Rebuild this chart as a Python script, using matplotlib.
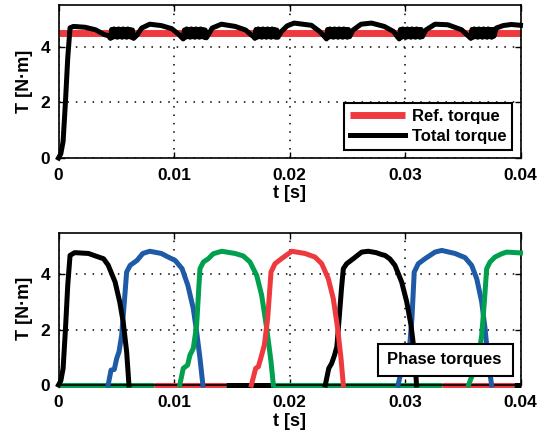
import numpy as np
import matplotlib
matplotlib.use('Agg')
import matplotlib.pyplot as plt
from matplotlib.patches import Rectangle

plt.rcParams['font.family'] = ['Liberation Sans', 'DejaVu Sans']
plt.rcParams['font.weight'] = 'bold'

# top plot : reference and total torque
ref_t = [0.0, 0.04]
ref_T = [4.5, 4.5]

# smooth parts of the total torque, between the chattering blocks
smooth_t = [
    [0.0, 0.0002, 0.0004, 0.0006, 0.0008, 0.001, 0.0013, 0.0023, 0.0032, 0.004, 0.0043],
    [0.0068, 0.0072, 0.0079, 0.0089, 0.0098, 0.0104, 0.0106],
    [0.013, 0.0133, 0.0141, 0.0153, 0.0162, 0.0167, 0.0169],
    [0.0193, 0.0198, 0.0204, 0.0219, 0.0226, 0.023],
    [0.0255, 0.0262, 0.0271, 0.0282, 0.029, 0.0293],
    [0.0318, 0.0326, 0.0337, 0.0349, 0.0355],
    [0.0379, 0.0385, 0.0392, 0.04],
]
smooth_T = [
    [0.0, 0.15, 0.6, 2.0, 3.6, 4.68, 4.73, 4.7, 4.61, 4.43, 4.4],
    [4.42, 4.67, 4.81, 4.76, 4.65, 4.45, 4.36],
    [4.45, 4.67, 4.81, 4.73, 4.6, 4.42, 4.36],
    [4.55, 4.75, 4.85, 4.77, 4.55, 4.38],
    [4.6, 4.81, 4.85, 4.73, 4.55, 4.38],
    [4.6, 4.81, 4.79, 4.61, 4.38],
    [4.67, 4.76, 4.8, 4.77],
]
# chattering blocks at each commutation
chat_t = [
    [0.0045, 0.0046, 0.0047, 0.0048, 0.0049, 0.005, 0.0051, 0.0052, 0.0053, 0.0054, 0.0055,
     0.0056, 0.0057, 0.0058, 0.0059, 0.006, 0.0061, 0.0062, 0.0063, 0.0064, 0.0065],
    [0.0108, 0.0109, 0.011, 0.0111, 0.0112, 0.0113, 0.0114, 0.0115, 0.0116, 0.0117, 0.0118,
     0.0119, 0.012, 0.0121, 0.0122, 0.0123, 0.0124, 0.0125, 0.0126, 0.0127, 0.0128],
    [0.017, 0.0171, 0.0172, 0.0173, 0.0174, 0.0175, 0.0176, 0.0177, 0.0178, 0.0179, 0.018,
     0.0181, 0.0182, 0.0183, 0.0184, 0.0185, 0.0186, 0.0187, 0.0188, 0.0189, 0.019],
    [0.0232, 0.0233, 0.0234, 0.0235, 0.0236, 0.0237, 0.0238, 0.0239, 0.024, 0.0241, 0.0242,
     0.0243, 0.0244, 0.0245, 0.0246, 0.0247, 0.0248, 0.0249, 0.025, 0.0251, 0.0252],
    [0.0295, 0.0296, 0.0297, 0.0298, 0.0299, 0.03, 0.0301, 0.0302, 0.0303, 0.0304, 0.0305,
     0.0306, 0.0307, 0.0308, 0.0309, 0.031, 0.0311, 0.0312, 0.0313, 0.0314, 0.0315],
    [0.0357, 0.0358, 0.0359, 0.036, 0.0361, 0.0362, 0.0363, 0.0364, 0.0365, 0.0366, 0.0367,
     0.0368, 0.0369, 0.037, 0.0371, 0.0372, 0.0373, 0.0374, 0.0375, 0.0376, 0.0377],
]
chat_T = [
    [4.3, 4.62, 4.34, 4.64, 4.36, 4.62, 4.34, 4.64, 4.36, 4.62, 4.34,
     4.64, 4.36, 4.62, 4.34, 4.64, 4.36, 4.62, 4.34, 4.6, 4.3],
    [4.28, 4.6, 4.34, 4.64, 4.36, 4.62, 4.34, 4.64, 4.36, 4.62, 4.34,
     4.64, 4.36, 4.62, 4.34, 4.64, 4.36, 4.62, 4.34, 4.6, 4.32],
    [4.3, 4.62, 4.34, 4.64, 4.36, 4.62, 4.34, 4.64, 4.36, 4.62, 4.34,
     4.64, 4.36, 4.62, 4.34, 4.64, 4.36, 4.62, 4.34, 4.6, 4.34],
    [4.28, 4.62, 4.34, 4.64, 4.36, 4.62, 4.34, 4.64, 4.36, 4.62, 4.34,
     4.64, 4.36, 4.62, 4.34, 4.64, 4.36, 4.62, 4.34, 4.62, 4.36],
    [4.28, 4.62, 4.34, 4.64, 4.36, 4.62, 4.34, 4.64, 4.36, 4.62, 4.34,
     4.64, 4.36, 4.62, 4.34, 4.64, 4.36, 4.62, 4.34, 4.62, 4.36],
    [4.3, 4.62, 4.34, 4.64, 4.36, 4.62, 4.34, 4.64, 4.36, 4.62, 4.34,
     4.64, 4.36, 4.62, 4.34, 4.64, 4.36, 4.62, 4.34, 4.62, 4.38],
]

# bottom plot : phase torque pulses (A black, B blue, C green, D red)
a_pulses = [
    ([0.0, 0.0002, 0.0004, 0.0006, 0.0008, 0.001, 0.0014, 0.0026, 0.0032, 0.0039, 0.0043,
      0.0049, 0.0053, 0.0056, 0.0059, 0.0061],
     [0.0, 0.15, 0.6, 2.0, 3.6, 4.68, 4.78, 4.75, 4.66, 4.56, 4.33,
      3.72, 3.0, 2.28, 1.2, 0.0]),
    ([0.0231, 0.0234, 0.02365, 0.0239, 0.0241, 0.0243, 0.0245, 0.02466, 0.02495, 0.02552, 0.02625,
      0.02682, 0.0275, 0.02798, 0.02827, 0.0287, 0.02913, 0.02971, 0.03015, 0.03052, 0.0308, 0.031],
     [0.0, 0.6, 0.78, 1.08, 1.38, 2.4, 3.48, 4.2, 4.38, 4.56, 4.8,
      4.83, 4.78, 4.71, 4.68, 4.55, 4.32, 3.72, 3.0, 2.16, 1.2, 0.0]),
]
b_pulses = [
    ([0.0043, 0.00455, 0.00483, 0.00504, 0.00524, 0.00547, 0.0057, 0.0059, 0.0062, 0.0068, 0.0073,
      0.0079, 0.0089, 0.0095, 0.0101, 0.0107, 0.0112, 0.01167, 0.01196, 0.01225, 0.0125],
     [0.0, 0.54, 0.56, 0.96, 1.2, 1.8, 3.0, 4.08, 4.32, 4.5, 4.75,
      4.83, 4.75, 4.62, 4.5, 4.2, 3.6, 2.76, 1.92, 0.96, 0.0]),
    ([0.0294, 0.0297, 0.03, 0.0302, 0.0304, 0.0306, 0.0308, 0.03115, 0.03173, 0.0326, 0.03318,
      0.03433, 0.0352, 0.03577, 0.03621, 0.03664, 0.03693, 0.03721, 0.0375],
     [0.0, 0.55, 0.6, 1.0, 1.4, 2.4, 4.08, 4.38, 4.56, 4.8, 4.86,
      4.75, 4.6, 4.32, 3.84, 3.0, 2.04, 0.84, 0.0]),
]
c_pulses = [
    ([0.0105, 0.0108, 0.01118, 0.01138, 0.01167, 0.01196, 0.01216, 0.01225, 0.01254, 0.01297,
      0.0134, 0.01413, 0.01528, 0.016, 0.01658, 0.01716, 0.01759, 0.01803, 0.0184, 0.0186],
     [0.0, 0.6, 0.72, 1.08, 1.32, 2.16, 3.6, 4.2, 4.44, 4.56,
      4.74, 4.83, 4.75, 4.66, 4.44, 3.96, 3.24, 2.04, 0.84, 0.0]),
    ([0.0355, 0.03583, 0.0361, 0.0364, 0.03664, 0.03687, 0.03707, 0.03736, 0.03779, 0.03837,
      0.0388, 0.04],
     [0.0, 0.36, 0.65, 1.1, 1.8, 3.0, 4.2, 4.44, 4.62, 4.74,
      4.8, 4.77]),
]
d_pulses = [
    ([0.0167, 0.01707, 0.0173, 0.01759, 0.01782, 0.01811, 0.0184, 0.01874, 0.0193, 0.0202,
      0.02134, 0.02221, 0.02279, 0.02336, 0.02379, 0.02417, 0.02446, 0.02466],
     [0.0, 0.6, 0.66, 1.08, 1.44, 2.4, 4.08, 4.38, 4.56, 4.83,
      4.75, 4.62, 4.38, 3.84, 3.12, 2.04, 0.96, 0.0]),
]

# which phase line shows on top along the zero level
base_edges = [0.0, 0.0083, 0.0145, 0.0186, 0.0332, 0.0394, 0.04]
base_phase = ['C', 'D', 'A', 'C', 'D', 'A']

colors = {'A': 'black', 'B': '#1f5aa6', 'C': '#00a04e', 'D': '#ee3a3e'}
pulses = {'A': a_pulses, 'B': b_pulses, 'C': c_pulses, 'D': d_pulses}

# stitch total torque together
tot_t, tot_T = [], []
for i in range(len(smooth_t)):
    tot_t += smooth_t[i]
    tot_T += smooth_T[i]
    if i < len(chat_t):
        tot_t += chat_t[i]
        tot_T += chat_T[i]

W, H = 545, 438
fig = plt.figure(figsize=(W / 100, H / 100), dpi=100)
ax1 = fig.add_axes([58.5 / W, 1 - 158 / H, 462 / W, 153 / H])
ax2 = fig.add_axes([58.5 / W, 1 - 385 / H, 462 / W, 152.3 / H])

FS = 12.5
LW = 3.6


def style(ax):
    ax.set_xlim(0, 0.04)
    ax.set_ylim(0, 5.5)
    ax.set_xticks([0, 0.01, 0.02, 0.03, 0.04])
    ax.set_xticklabels(['0', '0.01', '0.02', '0.03', '0.04'])
    ax.set_yticks([0, 2, 4])
    ax.tick_params(direction='in', top=True, right=True, length=4, width=1, labelsize=FS)
    ax.tick_params(axis='x', pad=7)
    ax.tick_params(axis='y', pad=6)
    ax.grid(True, color='black', linestyle=(0, (1, 4.5)), linewidth=1.1)
    for s in ax.spines.values():
        s.set_linewidth(1.2)
    ax.set_xlabel('t [s]', fontsize=13, fontweight='bold', labelpad=2)
    ax.set_ylabel('T [N\u00b7m]', fontsize=13, fontweight='bold', labelpad=5)


# top
style(ax1)
ax1.plot(ref_t, ref_T, color='#ee3a3e', lw=5.0, solid_capstyle='butt', label='Ref. torque',
         clip_on=False)
ax1.plot(tot_t, tot_T, color='black', lw=LW, label='Total torque', clip_on=False)
leg = ax1.legend(loc='lower right', fancybox=False, edgecolor='black', framealpha=1,
                 fontsize=12, handlelength=3.3, handletextpad=0.4, borderpad=0.35,
                 labelspacing=0.3, borderaxespad=0.5)
leg.get_frame().set_linewidth(1.5)

# bottom
style(ax2)
for i in range(len(base_phase)):
    ax2.plot(base_edges[i:i + 2], [0, 0], color=colors[base_phase[i]], lw=LW,
             solid_capstyle='butt', zorder=2.5, clip_on=False)
for ph in ['B', 'A', 'C', 'D']:
    for t, v in pulses[ph]:
        ax2.plot(t, v, color=colors[ph], lw=LW, zorder=3, clip_on=False)

box = Rectangle((0.691, 0.06), 0.2935, 0.21, transform=ax2.transAxes, facecolor='white',
                edgecolor='black', linewidth=1.5, zorder=5)
ax2.add_patch(box)
ax2.text(0.712, 0.165, 'Phase torques', transform=ax2.transAxes, fontsize=12,
         fontweight='bold', va='center', ha='left', zorder=6)

fig.savefig('out.png', dpi=100)
